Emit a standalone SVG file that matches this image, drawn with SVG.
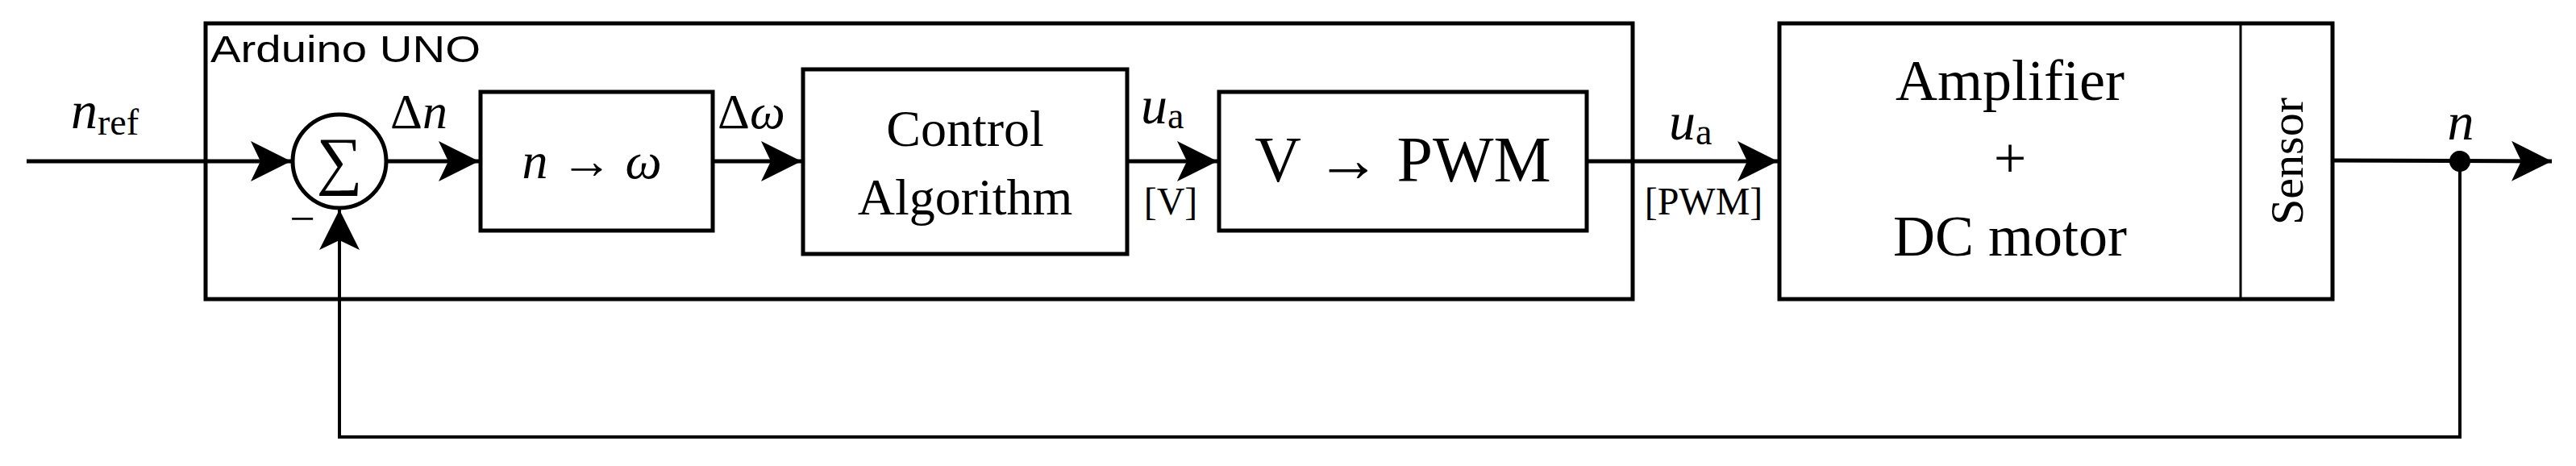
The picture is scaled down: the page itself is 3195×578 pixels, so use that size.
<svg xmlns="http://www.w3.org/2000/svg" width="3195" height="578" viewBox="0 0 3195 578">
<style>
.b{fill:none;stroke:#000;stroke-width:5}
.l{fill:none;stroke:#000;stroke-width:5}
.f{fill:none;stroke:#000;stroke-width:4}
.t{font-family:"Liberation Serif",serif;fill:#000}
.m{font-family:"Liberation Serif",serif;font-style:italic;fill:#000}
</style>
<defs>
<marker id="a" markerUnits="userSpaceOnUse" markerWidth="60" markerHeight="60" refX="50" refY="25" orient="auto">
<path d="M0,0 L50,25 L0,50 L12,25 Z" fill="#000"/>
</marker>
</defs>
<g id="arduino"><rect class="b" x="255" y="29" width="1770" height="342"/>
<text x="261" y="77" font-family="Liberation Sans,sans-serif" font-size="46" textLength="335" lengthAdjust="spacingAndGlyphs">Arduino UNO</text></g>
<g id="sum"><circle class="b" cx="421" cy="200" r="58"/>
<text class="t" x="421" y="226" font-size="80" text-anchor="middle">∑</text>
<text class="t" x="375" y="290" font-size="56" text-anchor="middle">−</text></g>
<g id="n2w"><rect class="b" x="596" y="114" width="288" height="172"/>
<text x="734" y="221" font-size="64" text-anchor="middle" class="t"><tspan class="m">n</tspan> → <tspan class="m">ω</tspan></text></g>
<g id="ctrl"><rect class="b" x="996" y="86" width="402" height="229"/>
<text class="t" x="1197" y="181" font-size="64" text-anchor="middle">Control</text>
<text class="t" x="1197" y="266" font-size="64" text-anchor="middle">Algorithm</text></g>
<g id="v2pwm"><rect class="b" x="1512" y="114" width="456" height="172"/>
<text class="t" x="1740" y="225" font-size="80" text-anchor="middle">V → PWM</text></g>
<g id="plant"><rect class="b" x="2207" y="29" width="686" height="342"/>
<line x1="2779" y1="29" x2="2779" y2="371" stroke="#000" stroke-width="3"/>
<text class="t" x="2493" y="124" font-size="72" text-anchor="middle">Amplifier</text>
<text class="t" x="2493" y="220" font-size="72" text-anchor="middle">+</text>
<text class="t" x="2493" y="317" font-size="72" text-anchor="middle">DC motor</text>
<text class="t" x="0" y="0" font-size="58" text-anchor="middle" transform="translate(2856,200) rotate(-90)">Sensor</text></g>
<g id="connectors">
<line class="l" x1="33" y1="200" x2="361" y2="200" marker-end="url(#a)"/>
<line class="l" x1="479" y1="200" x2="594" y2="200" marker-end="url(#a)"/>
<line class="l" x1="884" y1="200" x2="994" y2="200" marker-end="url(#a)"/>
<line class="l" x1="1398" y1="200" x2="1510" y2="200" marker-end="url(#a)"/>
<line class="l" x1="1968" y1="200" x2="2205" y2="200" marker-end="url(#a)"/>
<line class="l" x1="2893" y1="199" x2="3165" y2="200" marker-end="url(#a)"/>
<circle cx="3051" cy="200" r="13" fill="#000"/>
<polyline class="f" points="3051,200 3051,542 421,542 421,260" marker-end="url(#a)"/>
</g>
<g id="labels">
<text class="m" x="88" y="159" font-size="66">n<tspan class="t" font-style="normal" font-size="46" dy="8">ref</tspan></text>
<text class="t" x="484" y="159" font-size="62">Δ<tspan class="m">n</tspan></text>
<text class="t" x="890" y="159" font-size="62">Δ<tspan class="m">ω</tspan></text>
<text class="m" x="1415" y="153" font-size="66">u<tspan class="t" font-style="normal" font-size="46" dy="6">a</tspan></text>
<text class="t" x="1452" y="266" font-size="48" text-anchor="middle">[V]</text>
<text class="m" x="2070" y="173" font-size="66">u<tspan class="t" font-style="normal" font-size="46" dy="6">a</tspan></text>
<text class="t" x="2113" y="266" font-size="48" text-anchor="middle">[PWM]</text>
<text class="m" x="3052" y="173" font-size="66" text-anchor="middle">n</text>
</g>
</svg>
